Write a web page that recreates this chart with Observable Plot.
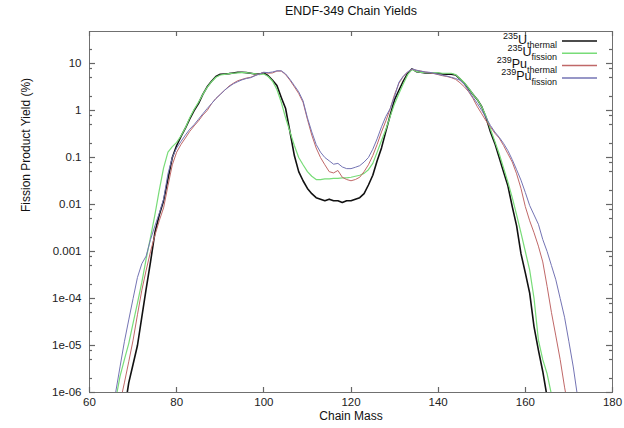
<!DOCTYPE html>
<html><head><meta charset="utf-8">
<script src="https://cdn.jsdelivr.net/npm/d3@7"></script>
<script src="https://cdn.jsdelivr.net/npm/@observablehq/plot@0.6"></script>
<style>body{margin:0;background:#fff}</style>
</head><body><div id="chart"></div>
<script>
const title = "ENDF-349 Chain Yields";
const xLabel = "Chain Mass";
const yLabel = "Fission Product Yield (%)";

const seriesNames = ["235U thermal", "235U fission", "239Pu thermal", "239Pu fission"];
const seriesColors = ["#111111", "#78dc78", "#c06868", "#7474b4"];
const seriesWidths = [1.6, 1.2, 1, 1];
const legendIsotopes = ["235", "235", "239", "239"];
const legendSymbols = ["U", "U", "Pu", "Pu"];
const legendSubs = ["thermal", "fission", "thermal", "fission"];

const xTicks = [60, 80, 100, 120, 140, 160, 180];
const yTicks = [1e-6, 1e-5, 1e-4, 1e-3, 0.01, 0.1, 1, 10];
const yTickLabels = ["1e-06", "1e-05", "1e-04", "0.001", "0.01", "0.1", "1", "10"];
const yMinorTicks = [2e-6, 5e-6, 8e-6, 2e-5, 5e-5, 8e-5, 2e-4, 5e-4, 8e-4, 2e-3, 5e-3, 8e-3,
  0.02, 0.05, 0.08, 0.2, 0.5, 0.8, 2, 5, 8, 20];

// yields (%) per chain mass, starting at the given mass, one value per unit mass
const u235ThermalStart = 68;
const u235Thermal = [4e-7, 1.6e-6, 4e-6, 1e-5, 4e-5, 1.6e-4, 6e-4, 2.5e-3, 6e-3, 0.012,
  0.035, 0.1, 0.18, 0.28, 0.42, 0.66, 1.0, 1.4, 2.2, 3.2,
  4.2, 5.3, 5.9, 6.0, 6.1, 6.3, 6.5, 6.5, 6.4, 6.2,
  6.0, 6.0, 6.3, 5.5, 4.4, 3.4, 1.9, 1.1, 0.35, 0.11,
  0.05, 0.032, 0.022, 0.017, 0.014, 0.013, 0.012, 0.013, 0.012, 0.012,
  0.011, 0.012, 0.012, 0.013, 0.014, 0.017, 0.026, 0.042, 0.085, 0.16,
  0.36, 0.8, 1.7, 2.7, 4.2, 6.2, 7.7, 6.7, 6.5, 6.3,
  6.3, 6.2, 6.2, 6.0, 5.9, 5.9, 5.7, 4.7, 3.8, 2.9,
  2.2, 1.7, 1.2, 0.7, 0.35, 0.2, 0.1, 0.05, 0.025, 0.009,
  0.0035, 9e-4, 3.5e-4, 1.3e-4, 2.5e-5, 8e-6, 2.8e-6, 8e-7];

const u235FissionStart = 66;
const u235Fission = [7e-7, 2.2e-6, 5e-6, 1.1e-5, 3e-5, 8e-5, 2.2e-4, 7e-4, 2e-3, 6e-3,
  0.02, 0.06, 0.13, 0.17, 0.21, 0.29, 0.43, 0.7, 1.05, 1.5,
  2.2, 3.1, 4.1, 5.1, 5.7, 5.9, 6.1, 6.2, 6.3, 6.4,
  6.4, 6.2, 6.0, 5.8, 6.0, 5.3, 4.2, 2.8, 1.5, 0.7,
  0.35, 0.18, 0.1, 0.07, 0.05, 0.04, 0.034, 0.034, 0.035, 0.035,
  0.036, 0.036, 0.037, 0.037, 0.038, 0.04, 0.042, 0.046, 0.055, 0.075,
  0.13, 0.23, 0.4, 0.75, 1.4, 2.3, 3.7, 5.8, 7.5, 6.8,
  6.5, 6.4, 6.4, 6.3, 6.3, 6.2, 6.2, 6.2, 5.8, 4.8,
  3.9, 3.0, 2.2, 1.7, 1.2, 0.75, 0.4, 0.22, 0.12, 0.06,
  0.03, 0.014, 0.006, 0.0025, 1e-3, 4e-4, 1e-4, 1.3e-5, 5e-6, 2.5e-6,
  9e-7];

const pu239ThermalStart = 67;
const pu239Thermal = [6e-7, 1.6e-6, 4.5e-6, 1.3e-5, 4.5e-5, 1.5e-4, 4e-4, 1e-3, 2.2e-3, 4.5e-3,
  8.5e-3, 0.025, 0.07, 0.13, 0.19, 0.26, 0.36, 0.47, 0.6, 0.8,
  1.0, 1.4, 1.8, 2.2, 2.7, 3.3, 3.8, 4.3, 4.6, 4.9,
  5.1, 5.6, 6.0, 6.5, 6.2, 6.3, 6.9, 6.9, 5.8, 4.4,
  3.2, 2.3, 1.5, 0.65, 0.3, 0.16, 0.1, 0.07, 0.05, 0.047,
  0.053, 0.038, 0.034, 0.032, 0.034, 0.038, 0.05, 0.07, 0.11, 0.19,
  0.35, 0.6, 1.1, 2.2, 3.8, 5.3, 6.6, 7.6, 7.2, 6.9,
  6.6, 6.4, 6.1, 5.8, 5.5, 5.3, 5.0, 4.6, 3.9, 3.2,
  2.5, 1.8, 1.2, 0.85, 0.6, 0.45, 0.33, 0.26, 0.18, 0.12,
  0.08, 0.045, 0.022, 0.009, 0.0045, 2.5e-3, 1.3e-3, 6e-4, 1.8e-4, 5e-5,
  1.6e-5, 5e-6, 1.3e-6, 4e-7];

const pu239FissionStart = 65;
const pu239Fission = [3e-7, 1e-6, 3.5e-6, 1.2e-5, 3.5e-5, 1e-4, 2.8e-4, 5.5e-4, 8e-4, 1.8e-3,
  3.5e-3, 6.5e-3, 0.013, 0.045, 0.1, 0.16, 0.22, 0.3, 0.4, 0.5,
  0.65, 0.85, 1.1, 1.4, 1.8, 2.2, 2.7, 3.2, 3.7, 4.1,
  4.5, 4.8, 5.0, 5.5, 6.0, 6.5, 6.4, 6.6, 7.0, 7.0,
  6.0, 4.6, 3.4, 2.5, 1.6, 0.7, 0.35, 0.19, 0.13, 0.1,
  0.085, 0.072, 0.075, 0.063, 0.058, 0.058, 0.062, 0.067, 0.08, 0.1,
  0.15, 0.25, 0.45, 0.75, 1.1, 2.0, 4.0, 5.4, 6.6, 7.7,
  7.2, 6.9, 6.6, 6.5, 6.2, 5.9, 5.6, 5.4, 5.1, 4.8,
  4.4, 3.6, 2.6, 1.9, 1.4, 1.0, 0.7, 0.48, 0.35, 0.27,
  0.2, 0.14, 0.09, 0.055, 0.033, 0.018, 0.0095, 0.006, 0.0038, 0.0018,
  1e-3, 5e-4, 2.5e-4, 1e-4, 4e-5, 1.2e-5, 3.5e-6, 8e-7];

const seriesStarts = [u235ThermalStart, u235FissionStart, pu239ThermalStart, pu239FissionStart];
const seriesValues = [u235Thermal, u235Fission, pu239Thermal, pu239Fission];

const FONT = "'Liberation Sans', Arial, Helvetica, sans-serif";
const AXIS_GRAY = "#666666";

const tables = seriesNames.map((name, s) =>
  seriesValues[s].map((v, i) => ({series: name, mass: seriesStarts[s] + i, yield: v})));

// inward tick marks on all four sides, positioned through Plot's scales
function tickMarks(index, scales, values, dims) {
  const g = d3.create("svg:g");
  const left = dims.marginLeft, right = dims.width - dims.marginRight;
  const top = dims.marginTop, bottom = dims.height - dims.marginBottom;
  const MAJOR = 6, MINOR = 3, XT = 5;
  const segs = [];
  for (const v of xTicks) {
    const x = Math.round(scales.x(v)) + 0.5;
    segs.push([x, bottom, x, bottom - XT], [x, top, x, top + XT]);
  }
  const yt = [...yTicks.map(v => [v, MAJOR]), ...yMinorTicks.map(v => [v, MINOR])];
  for (const [v, len] of yt) {
    const y = Math.round(scales.y(v)) + 0.5;
    segs.push([left, y, left + len, y], [right, y, right - len, y]);
  }
  for (const [x1, y1, x2, y2] of segs) {
    g.append("line").attr("x1", x1).attr("y1", y1).attr("x2", x2).attr("y2", y2)
      .attr("stroke", AXIS_GRAY).attr("stroke-width", 1.2);
  }
  return g.node();
}

function legendMark(index, scales, values, dims) {
  const g = d3.create("svg:g").attr("font-family", FONT).attr("fill", "#111");
  const right = dims.width - dims.marginRight;
  seriesNames.forEach((name, i) => {
    const y = dims.marginTop + 10 + 12.3 * i;
    const color = scales.color ? scales.color(name) : seriesColors[i];
    g.append("line")
      .attr("x1", right - 50).attr("x2", right - 15)
      .attr("y1", y).attr("y2", y)
      .attr("stroke", color).attr("stroke-width", 1.5);
    const t = g.append("text").attr("text-anchor", "end")
      .attr("x", right - 55).attr("y", y + 2.5);
    t.append("tspan").attr("font-size", 9).attr("dy", -5).text(legendIsotopes[i]);
    t.append("tspan").attr("font-size", 12.5).attr("dy", 5).text(legendSymbols[i]);
    t.append("tspan").attr("font-size", 9).attr("dy", 4.5).text(legendSubs[i]);
  });
  return g.node();
}

const chart = Plot.plot({
  width: 624,
  height: 428,
  marginLeft: 89,
  marginRight: 12,
  marginTop: 31,
  marginBottom: 36,
  style: {fontFamily: FONT, fontSize: "11px", color: "#222", background: "#fff"},
  x: {domain: [60, 180]},
  y: {type: "log", domain: [1e-6, 48]},
  color: {domain: seriesNames, range: seriesColors},
  marks: [
    ...tables.map((rows, s) => Plot.line(rows, {
      x: "mass", y: "yield", stroke: "series", strokeWidth: seriesWidths[s], clip: true
    })),
    Plot.frame({stroke: "#707070"}),
    Plot.axisX(xTicks, {anchor: "bottom", tickSize: 0, tickPadding: 5, fontSize: 11.5, label: null}),
    Plot.axisY(yTicks, {anchor: "left", tickSize: 0, tickPadding: 8, fontSize: 11.5, label: null,
      tickFormat: d => yTickLabels[yTicks.indexOf(d)]}),
    tickMarks,
    Plot.text([title], {frameAnchor: "top", dy: -21, lineAnchor: "middle", fontSize: 12.5, fill: "#111"}),
    Plot.text([xLabel], {frameAnchor: "bottom", dy: 24, lineAnchor: "middle", fontSize: 12, fill: "#111"}),
    Plot.text([yLabel], {frameAnchor: "left", dx: -63, lineAnchor: "middle", rotate: -90, fontSize: 12, fill: "#111"}),
    legendMark
  ]
});
document.getElementById("chart").appendChild(chart);
</script>
</body></html>
